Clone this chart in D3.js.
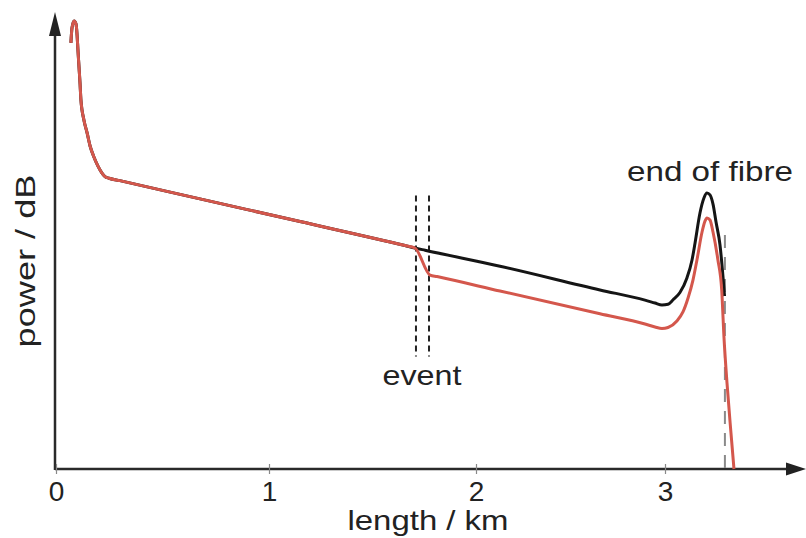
<!DOCTYPE html>
<meta charset="utf-8">
<style>
body { margin: 0; background: #fff; }
text { font-family: "Liberation Sans", Arial, sans-serif; fill: #222; }
</style>
<svg width="806" height="538"></svg>
<script src="https://cdn.jsdelivr.net/npm/d3@7/dist/d3.min.js"></script>
<script>

// length in km, power in dB (arbitrary offset)
var blackKm = [0.070, 0.075, 0.085, 0.094, 0.099, 0.103, 0.108, 0.113, 0.117, 0.131, 0.146, 0.160, 0.178, 0.197, 0.216, 0.230,
  0.249, 0.300, 0.676, 1.150, 1.657, 1.705, 1.754, 2.127, 2.656, 2.894, 2.947, 2.984, 3.016, 3.042, 3.079, 3.116, 3.143,
  3.159, 3.185, 3.206, 3.222, 3.238, 3.254, 3.270, 3.291, 3.307, 3.315];
var blackDb = [28.03, 29.01, 29.47, 29.28, 28.55, 27.57, 26.45, 25.33, 24.28, 22.96, 22.11, 21.25, 20.53, 19.93, 19.47, 19.24,
  19.13, 18.97, 17.77, 16.28, 14.70, 14.54, 14.39, 13.34, 11.78, 11.11, 10.92, 10.79, 10.84, 11.12, 11.61, 12.57, 13.75,
  14.87, 16.84, 17.83, 18.16, 18.03, 17.43, 16.25, 14.74, 12.63, 11.38];

var redKm = [0.070, 0.075, 0.085, 0.094, 0.099, 0.103, 0.108, 0.113, 0.117, 0.131, 0.146, 0.160, 0.178, 0.197, 0.216, 0.230,
  0.249, 0.300, 0.676, 1.150, 1.657, 1.705, 1.778, 1.812, 2.127, 2.656, 2.894, 2.947, 2.984, 3.016, 3.063, 3.095, 3.122,
  3.148, 3.169, 3.196, 3.212, 3.222, 3.238, 3.254, 3.280, 3.300, 3.312, 3.328, 3.349, 3.365];
var redDb = [28.03, 29.01, 29.47, 29.28, 28.55, 27.57, 26.45, 25.33, 24.28, 22.96, 22.11, 21.25, 20.53, 19.93, 19.47, 19.24,
  19.13, 18.97, 17.77, 16.28, 14.70, 14.54, 12.76, 12.66, 11.71, 10.21, 9.54, 9.34, 9.24, 9.31, 9.74, 10.33, 11.25,
  12.43, 13.75, 15.59, 16.32, 16.51, 16.38, 15.59, 13.75, 11.78, 8.68, 5.66, 2.37, 0];

var xTicks = [0, 1, 2, 3];
var eventKm = [1.710, 1.773];
var eventDb = [7.4, 18.0];
var endKm = 3.317;
var endDb = [0, 15.4];

var svg = d3.select("svg");

var x = d3.scaleLinear().domain([0, 1, 2, 3]).range([56, 269, 476, 665]);
var y = d3.scaleLinear().domain([0, 30]).range([469, 13]);

var line = d3.line()
    .x(function(d) { return x(d[0]); })
    .y(function(d) { return y(d[1]); })
    .curve(d3.curveMonotoneX);

// axes
var axis = svg.append("g").attr("class", "axes");
axis.append("line")
    .attr("x1", 55).attr("x2", 792)
    .attr("y1", y(0)).attr("y2", y(0))
    .attr("stroke", "#2a2a2a").attr("stroke-width", 2.5);
axis.append("path")
    .attr("d", "M806," + y(0) + "L786," + (y(0) - 6.5) + "L786," + (y(0) + 6.5) + "Z")
    .attr("fill", "#222");
axis.append("line")
    .attr("x1", 55).attr("x2", 55)
    .attr("y1", y(0) + 1).attr("y2", 30)
    .attr("stroke", "#2a2a2a").attr("stroke-width", 2.5);
axis.append("path")
    .attr("d", "M55,12L49,36L61,36Z")
    .attr("fill", "#222");

var xAxis = svg.append("g")
    .attr("transform", "translate(0," + y(0) + ")")
    .call(d3.axisBottom(x).tickValues(xTicks).tickSize(0).tickPadding(12).tickFormat(d3.format("d")));
xAxis.select(".domain").remove();
xAxis.selectAll(".tick text")
    .attr("font-size", 28)
    .attr("font-family", "'Liberation Sans', Arial, sans-serif")
    .attr("fill", "#222");
xAxis.selectAll(".tick").append("line")
    .attr("y1", -5).attr("y2", 5)
    .attr("stroke", "#888").attr("stroke-width", 1.2);

// marker lines
svg.selectAll(".event")
    .data(eventKm)
  .enter().append("line")
    .attr("class", "event")
    .attr("x1", function(d) { return x(d); })
    .attr("x2", function(d) { return x(d); })
    .attr("y1", y(eventDb[1]))
    .attr("y2", y(eventDb[0]))
    .attr("stroke", "#222")
    .attr("stroke-width", 2)
    .attr("stroke-dasharray", "6,4");

svg.append("line")
    .attr("x1", x(endKm)).attr("x2", x(endKm))
    .attr("y1", y(endDb[1])).attr("y2", y(endDb[0]))
    .attr("stroke", "#8a8a8a")
    .attr("stroke-width", 2)
    .attr("stroke-dasharray", "13,9");

// traces
svg.append("path")
    .datum(d3.zip(blackKm, blackDb))
    .attr("d", line)
    .attr("fill", "none")
    .attr("stroke", "#151515")
    .attr("stroke-width", 3);

svg.append("path")
    .datum(d3.zip(redKm, redDb))
    .attr("d", line)
    .attr("fill", "none")
    .attr("stroke", "#d4574c")
    .attr("stroke-width", 3);

// labels
svg.append("text")
    .attr("x", 710).attr("y", 181)
    .attr("text-anchor", "middle")
    .attr("font-size", 28)
    .attr("textLength", 166)
    .attr("lengthAdjust", "spacingAndGlyphs")
    .text("end of fibre");

svg.append("text")
    .attr("x", 422).attr("y", 385)
    .attr("text-anchor", "middle")
    .attr("font-size", 28)
    .attr("textLength", 79)
    .attr("lengthAdjust", "spacingAndGlyphs")
    .text("event");

svg.append("text")
    .attr("x", 428).attr("y", 530)
    .attr("text-anchor", "middle")
    .attr("font-size", 28)
    .attr("textLength", 161)
    .attr("lengthAdjust", "spacingAndGlyphs")
    .text("length / km");

svg.append("text")
    .attr("transform", "translate(35,261) rotate(-90)")
    .attr("text-anchor", "middle")
    .attr("font-size", 28)
    .attr("textLength", 173)
    .attr("lengthAdjust", "spacingAndGlyphs")
    .text("power / dB");

</script>
